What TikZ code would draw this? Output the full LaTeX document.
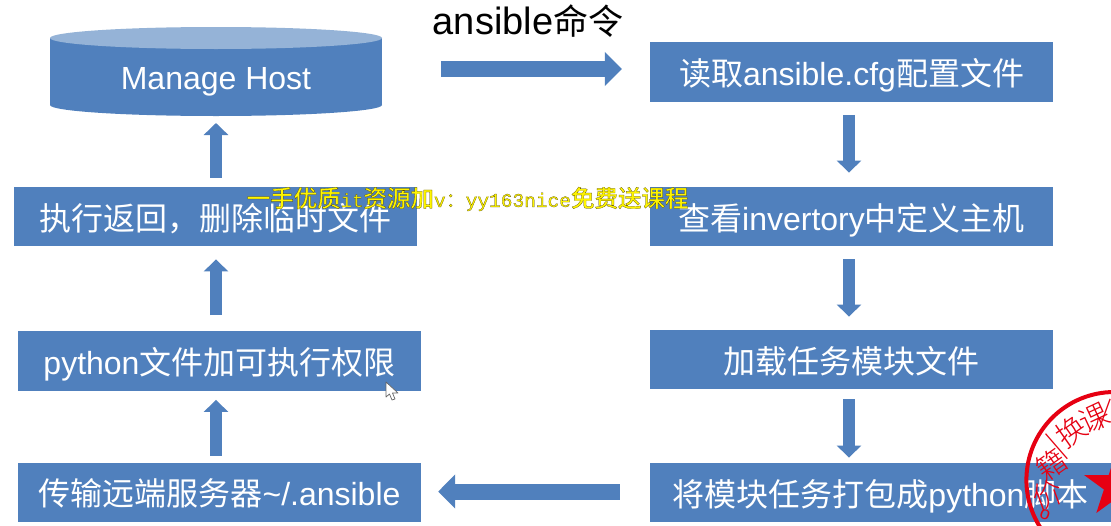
\documentclass[tikz,border=0pt]{standalone}
\usepackage{fontspec}
\setmainfont{Liberation Sans}
\setmonofont{Liberation Mono}
\newfontfamily\cjk{Noto Sans CJK SC}
\newfontfamily\cjkthin{Noto Sans CJK SC Light}
\newfontfamily\cjkmed{Noto Sans CJK SC Medium}
\usetikzlibrary{arrows.meta,shapes.geometric}
\definecolor{boxblue}{HTML}{5080BD}
\definecolor{capblue}{HTML}{95B3D7}
\definecolor{stampred}{HTML}{E60012}
\definecolor{wmyellow}{HTML}{FFF500}
\newcommand{\wmon}{\special{pdf:code 2 Tr 0.2 w 0.3 0.25 0 RG}}
\newcommand{\wmoff}{\special{pdf:code 0 Tr}}
\tikzset{
  x=1pt,y=-1pt,
  stepbox/.style={fill=boxblue,draw=none,text=white,minimum width=403pt,minimum height=59.5pt,inner sep=0pt,text depth=0pt,font=\fontsize{32}{36}\selectfont},
  flow/.style={draw=boxblue,line width=12pt,-{Triangle[length=12pt,width=24pt]}},
  sideflow/.style={draw=boxblue,line width=16pt,-{Triangle[length=17pt,width=33pt]}},
  stamptext/.style={text=stampred,font=\cjkthin\fontsize{30}{32}\selectfont,inner sep=0pt},
}
\begin{document}
\begin{tikzpicture}
\useasboundingbox (0,0) rectangle (1111,525);
\fill[white] (0,0) rectangle (1111,525);
% Manage Host cylinder
\fill[boxblue] (216,105) ellipse[x radius=166pt,y radius=11pt];
\fill[boxblue] (50,38) rectangle (382,105);
\fill[capblue] (216,38) ellipse[x radius=166pt,y radius=11pt];
\node[inner sep=0pt,text=white,font=\fontsize{32}{36}\selectfont] (host) at (216,82) {Manage Host};
\coordinate (hostbase) at (216,116);
\coordinate (hostside) at (382,69);
% boxes
\node[stepbox] (read) at (851.5,72) {{\cjk 读取}ansible.cfg{\cjk 配置文件}};
\node[stepbox] (check) at (851.5,216.5) {{\cjk 查看}invertory{\cjk 中定义主机}};
\node[stepbox] (load) at (851.5,359.5) {\cjk 加载任务模块文件};
\node[stepbox,minimum width=461pt] (pack) at (880.5,492.5) {{\cjk 将模块任务打包成}python{\cjk 脚本}};
\node[stepbox] (trans) at (219.5,492.5) {{\cjk 传输远端服务器}\string~/.ansible};
\node[stepbox] (py) at (219.5,361) {python{\cjk 文件加可执行权限}};
\node[stepbox] (exec) at (215.5,216.5) {\cjk 执行返回，删除临时文件};
\node[inner sep=0pt,font=\fontsize{38}{40}\selectfont] (title) at (528,21) {ansible{\cjk\fontsize{35}{40}\selectfont 命令}};
% connectors
\draw[sideflow,shorten <=59pt,shorten >=28pt] (hostside) -- ([yshift=3pt]read.west);
\draw[flow,shorten <=13pt,shorten >=14pt] ([xshift=-2.5pt]read.south) -- ([xshift=-2.5pt]check.north);
\draw[flow,shorten <=13pt,shorten >=13pt] ([xshift=-2.5pt]check.south) -- ([xshift=-2.5pt]load.north);
\draw[flow,shorten <=10pt,shorten >=5pt] ([xshift=-2.5pt]load.south) -- ([xshift=-31.5pt]pack.north);
\draw[sideflow,shorten <=30pt,shorten >=17pt] ([yshift=1pt]pack.west) -- ([yshift=1pt]trans.east);
\draw[flow,shorten <=7pt,shorten >=9pt] ([xshift=-3.5pt]trans.north) -- ([xshift=-3.5pt]py.south);
\draw[flow,shorten <=16pt,shorten >=13pt] ([xshift=-3.5pt]py.north) -- ([xshift=.5pt]exec.south);
\draw[flow,shorten <=9pt,shorten >=7pt] ([xshift=.5pt]exec.north) -- (hostbase);
% watermark
\node[inner sep=0pt,anchor=west,text=wmyellow] (mark) at (246.5,199) {\wmon{\cjkmed\fontsize{23.5}{24}\selectfont 一手优质}{\ttfamily\fontsize{19}{24}\selectfont it}{\cjkmed\fontsize{23.5}{24}\selectfont 资源加}{\ttfamily\fontsize{19.5}{24}\selectfont v}{\cjk\fontsize{20}{24}\selectfont ：}{\ttfamily\fontsize{19.5}{24}\selectfont yy163nice}{\cjkmed\fontsize{23.5}{24}\selectfont 免费送课程}\wmoff};
% mouse cursor
\draw[draw=black!60,fill=white,line width=.7pt,line join=round] (386,382) -- (386,397) -- (389.5,394) -- (392,400) -- (395,399) -- (392.5,393) -- (398,393) -- cycle;
% stamp
\begin{scope}
\clip (0,0) rectangle (1111,525);
\draw[stampred,line width=4pt] (1114.4,480) circle[radius=88pt];
\fill[stampred] (1116.3,451.5) -- (1124,475) -- (1148.6,475) -- (1128.7,489.5) -- (1136.3,513) -- (1116.3,498.5) -- (1096.3,513) -- (1103.9,489.5) -- (1084,475) -- (1108.7,475) -- cycle;
\node[stamptext,rotate=35] (s1) at (1071,432) {换};
\node[stamptext,rotate=25] (s2) at (1094,418) {课};
\node[stamptext,rotate=41] (s3) at (1057,447) {|};
\node[stamptext,rotate=-20] (s4) at (1105,415) {|};
\node[stamptext,rotate=35] (s5) at (1051,465) {籍};
\node[stamptext,rotate=20] (s6) at (1048,495) {价};
\node[stamptext,font=\fontsize{18}{20}\selectfont,rotate=-20] (s7) at (1045,515) {o};
\end{scope}
\end{tikzpicture}
\end{document}
